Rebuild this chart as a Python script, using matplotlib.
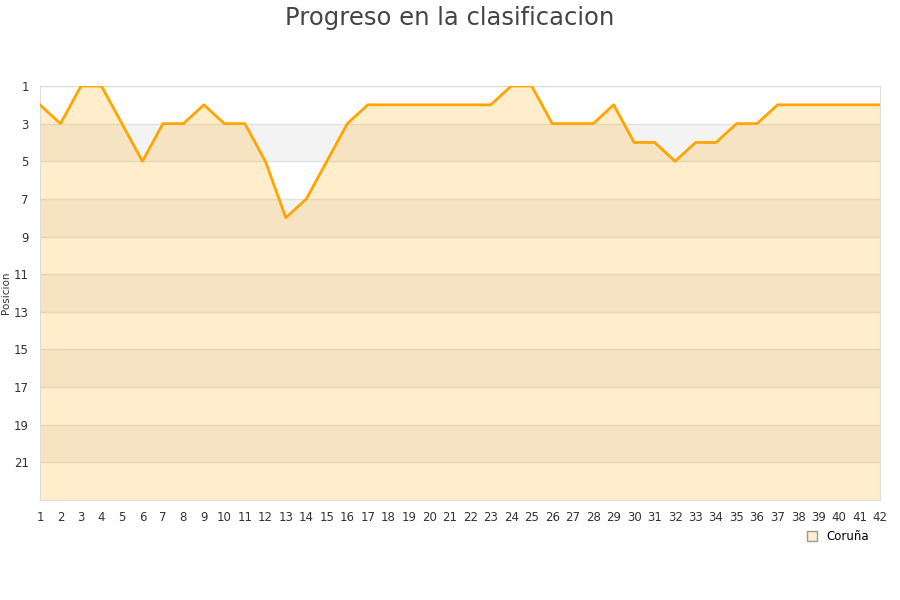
import matplotlib
matplotlib.use('Agg')
import matplotlib.pyplot as plt
from matplotlib.lines import Line2D

# Datos
jornadas = list(range(1, 43))
posiciones = [2, 3, 1, 1, 3, 5, 3, 3, 2, 3, 3, 5, 8, 7, 5, 3, 2, 2, 2, 2,
              2, 2, 2, 1, 1, 3, 3, 3, 2, 4, 4, 5, 4, 4, 3, 3, 2, 2, 2, 2,
              2, 2]
y_ticks = list(range(1, 23, 2))
equipo = 'Coruña'

fig = plt.figure(figsize=(9, 6), dpi=100)
ax = fig.add_axes([40 / 900, 1 - 500 / 600, 840 / 900, 414 / 600])

# Bandas alternas
for i, y0 in enumerate(range(1, 23, 2)):
    color = 'white' if i % 2 == 0 else '#f3f3f3'
    ax.axhspan(y0, y0 + 2, color=color, zorder=0, lw=0)
for y in y_ticks:
    ax.axhline(y, color='#e2e2e2', lw=1, zorder=1)

ax.fill_between(jornadas, posiciones, 23, color='#ffa500', alpha=0.2, lw=0, zorder=2)
ax.plot(jornadas, posiciones, color='#ffa500', lw=2, zorder=3)

ax.set_xlim(1, 42)
ax.set_ylim(23, 1)
ax.set_xticks(jornadas)
ax.set_yticks(y_ticks)
ax.tick_params(length=0, labelsize=8.5, colors='#333333', pad=8)
for s in ax.spines.values():
    s.set_color('#dddddd')

ax.set_ylabel('Posicion', fontsize=7.5, color='#333333')
ax.yaxis.set_label_coords(-0.034, 0.5)
fig.suptitle('Progreso en la clasificacion', fontsize=17.5, color='#444444', y=0.99)

handle = Line2D([], [], marker='s', linestyle='none', markersize=7,
                markerfacecolor='#ffedcc', markeredgecolor='#999999')
fig.legend([handle], [equipo], loc='center left', bbox_to_anchor=(0.877, 1 - 537 / 600),
           frameon=False, fontsize=8.5, handletextpad=0.2)

plt.savefig('out.png')
